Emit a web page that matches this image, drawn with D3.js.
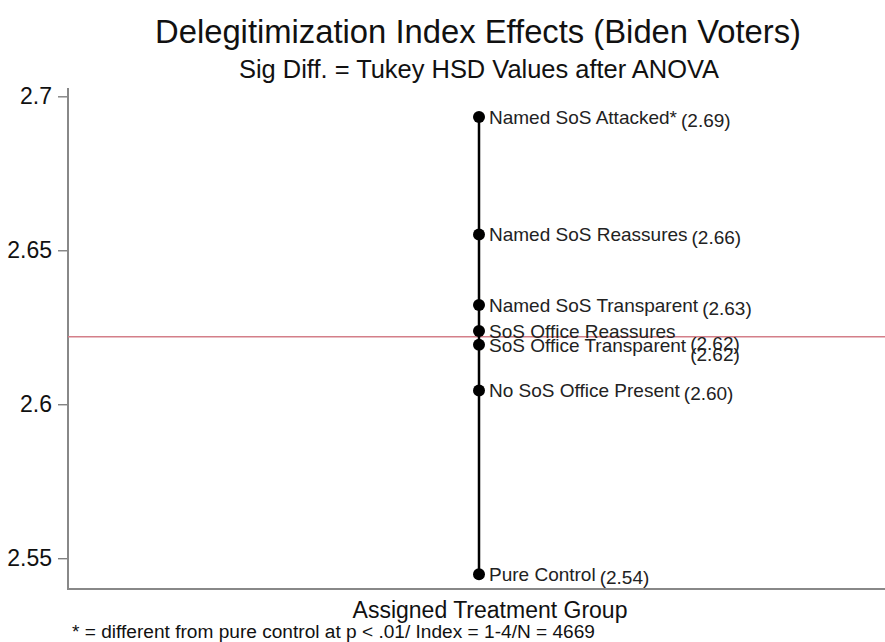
<!DOCTYPE html>
<html>
<head>
<meta charset="utf-8">
<script src="https://cdn.jsdelivr.net/npm/d3@7"></script>
<style>
  html, body { margin: 0; padding: 0; background: #fff; }
  svg { display: block; font-family: "Liberation Sans", Arial, Helvetica, sans-serif; }
</style>
</head>
<body>
<svg id="chart" width="885" height="642"></svg>
<script>
// Treatment groups and their mean delegitimization index
const groups = [
  "Named SoS Attacked*",
  "Named SoS Reassures",
  "Named SoS Transparent",
  "SoS Office Reassures",
  "SoS Office Transparent",
  "No SoS Office Present",
  "Pure Control"
];
const means = [2.6933, 2.6551, 2.6322, 2.6238, 2.6193, 2.6045, 2.5448];
const overallMean = 2.6219;
const yTicks = [2.55, 2.6, 2.65, 2.7];
const yTickLabels = ["2.55", "2.6", "2.65", "2.7"];
const xCategory = ["Assigned Treatment Group"];

const svg = d3.select("#chart");
const W = 885, H = 642;
const plot = { left: 68, right: 890, top: 88, bottom: 589 };

const x = d3.scalePoint().domain(xCategory).range([plot.left, plot.right]).padding(0.5);
const y = d3.scaleLinear().domain([2.54, 2.7027]).range([plot.bottom, plot.top]);

// Titles
svg.append("text")
  .attr("x", 478).attr("y", 43)
  .attr("text-anchor", "middle")
  .attr("font-size", 34).attr("fill", "#111")
  .attr("textLength", 646).attr("lengthAdjust", "spacingAndGlyphs")
  .text("Delegitimization Index Effects (Biden Voters)");
svg.append("text")
  .attr("x", 479).attr("y", 78)
  .attr("text-anchor", "middle")
  .attr("font-size", 25.5).attr("fill", "#111")
  .attr("textLength", 480).attr("lengthAdjust", "spacingAndGlyphs")
  .text("Sig Diff. = Tukey HSD Values after ANOVA");

// Y axis
const yAxis = d3.axisLeft(y)
  .tickValues(yTicks)
  .tickFormat((d, i) => yTickLabels[i])
  .tickSize(10)
  .tickPadding(6);
const gy = svg.append("g")
  .attr("transform", `translate(${plot.left},0)`)
  .call(yAxis);
gy.select(".domain").remove();
gy.selectAll(".tick line").attr("stroke", "#777").attr("stroke-width", 1.3);
gy.selectAll(".tick text").attr("font-size", 23).attr("fill", "#111")
  .attr("font-family", "Liberation Sans, Arial, sans-serif");

// Plot frame: left and bottom edges
svg.append("path")
  .attr("d", `M${plot.left},${plot.top}V${plot.bottom}H${W}`)
  .attr("fill", "none").attr("stroke", "#888").attr("stroke-width", 2);

// Reference line at the overall mean
svg.append("line")
  .attr("x1", plot.left).attr("x2", W)
  .attr("y1", y(overallMean)).attr("y2", y(overallMean))
  .attr("stroke", "#d47f89").attr("stroke-width", 1.6);

const cx = x(xCategory[0]);

// Range spike connecting the group means
svg.append("line")
  .attr("x1", cx).attr("x2", cx)
  .attr("y1", y(d3.max(means))).attr("y2", y(d3.min(means)))
  .attr("stroke", "#000").attr("stroke-width", 2.5);

const data = groups.map((g, i) => ({ name: g, value: means[i] }));

svg.append("g").selectAll("circle")
  .data(data).join("circle")
  .attr("cx", cx).attr("cy", d => y(d.value))
  .attr("r", 6).attr("fill", "#000");

// Marker labels: group name, then the value in parentheses
const labelSize = 19;
const lg = svg.append("g").attr("font-size", labelSize).attr("fill", "#222");
const names = lg.selectAll("text.name")
  .data(data).join("text")
  .attr("class", "name")
  .attr("x", cx + 10).attr("y", d => y(d.value))
  .attr("dy", "0.36em")
  .text(d => d.name);

// Value labels follow the names; when two points nearly coincide,
// their values share one column just past the longer name.
const ends = [];
names.each(function () { ends.push(cx + 10 + this.getComputedTextLength()); });
const vx = ends.map(e => e + 4);
const vy = data.map(d => y(d.value) + 3);
for (let i = 0; i < data.length - 1; i++) {
  if (Math.abs(y(data[i].value) - y(data[i + 1].value)) < 18) {
    const ax = Math.max(ends[i], ends[i + 1]) + 4;
    vx[i] = ax; vx[i + 1] = ax;
    vy[i] = y(data[i].value) + 12;
    vy[i + 1] = y(data[i + 1].value) + 9;
  }
}
lg.selectAll("text.val")
  .data(data).join("text")
  .attr("class", "val")
  .attr("x", (d, i) => vx[i]).attr("y", (d, i) => vy[i])
  .attr("dy", "0.36em")
  .text(d => `(${d.value.toFixed(2)})`);

// Axis title and footnote
svg.append("text")
  .attr("x", 490).attr("y", 618)
  .attr("text-anchor", "middle")
  .attr("font-size", 23).attr("fill", "#111")
  .text(xCategory[0]);
svg.append("text")
  .attr("x", 72).attr("y", 638)
  .attr("font-size", 18).attr("fill", "#111")
  .attr("textLength", 523).attr("lengthAdjust", "spacingAndGlyphs")
  .text("* = different from pure control at p < .01/ Index = 1-4/N = 4669");
</script>
</body>
</html>
